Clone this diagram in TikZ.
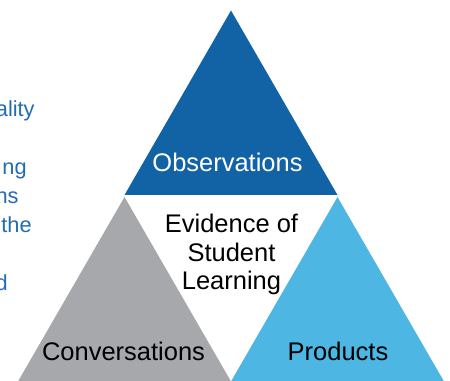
\documentclass[tikz,border=0pt]{standalone}
\definecolor{main}{RGB}{17,99,166}
\definecolor{second}{RGB}{166,168,171}
\definecolor{third}{RGB}{77,182,227}
\definecolor{fourth}{RGB}{36,108,178}
\usepackage{fontspec}
\setmainfont{Liberation Sans}
\usepackage{tikz}
\usetikzlibrary{
	positioning,
	calc
}
\tikzset{
  % fill
	cstfill1/.style       ={fill=main},
	cstfill2/.style       ={fill=second},
	cstfill3/.style       ={fill=third},
  % text
	csttext/.style        ={inner sep=0pt,anchor=base,font=\fontsize{14.5}{16.4}\selectfont},
	csttexte/.style       ={inner sep=0pt,anchor=base east,text=fourth,font=\fontsize{12.4}{13}\selectfont}
}

\begin{document}
\begin{tikzpicture}
				\useasboundingbox (0,0) rectangle (9,7.62);
				% cut-off text of the left column
				\node[csttexte] (ality) at (0.70,5.28) {ality};
				\node[csttexte] (ng) at (0.54,4.12) {ng};
				\node[csttexte] (ns) at (0.38,3.54) {ns};
				\node[csttexte] (the) at (0.64,2.96) {the};
				\node[csttexte] (d) at (0.16,1.80) {d};
				% triangles
				\fill[cstfill1] (2.49,3.72)--(6.75,3.72)--(4.62,7.41)--cycle;
				\fill[cstfill2] (0.365,0)--(4.615,0)--(2.49,3.68)--cycle;
				\fill[cstfill3] (4.625,0)--(8.875,0)--(6.75,3.68)--cycle;
				% labels
				\node[csttext,text=white] (obs) at (4.55,4.18) {Observations};
				\node[csttext] (conv) at (2.47,0.40) {Conversations};
				\node[csttext] (prod) at (6.76,0.40) {Products};
				\node[csttext,align=center] (evid) at (4.63,1.82) {Evidence of\\Student\\Learning};
			\end{tikzpicture}
\end{document}
